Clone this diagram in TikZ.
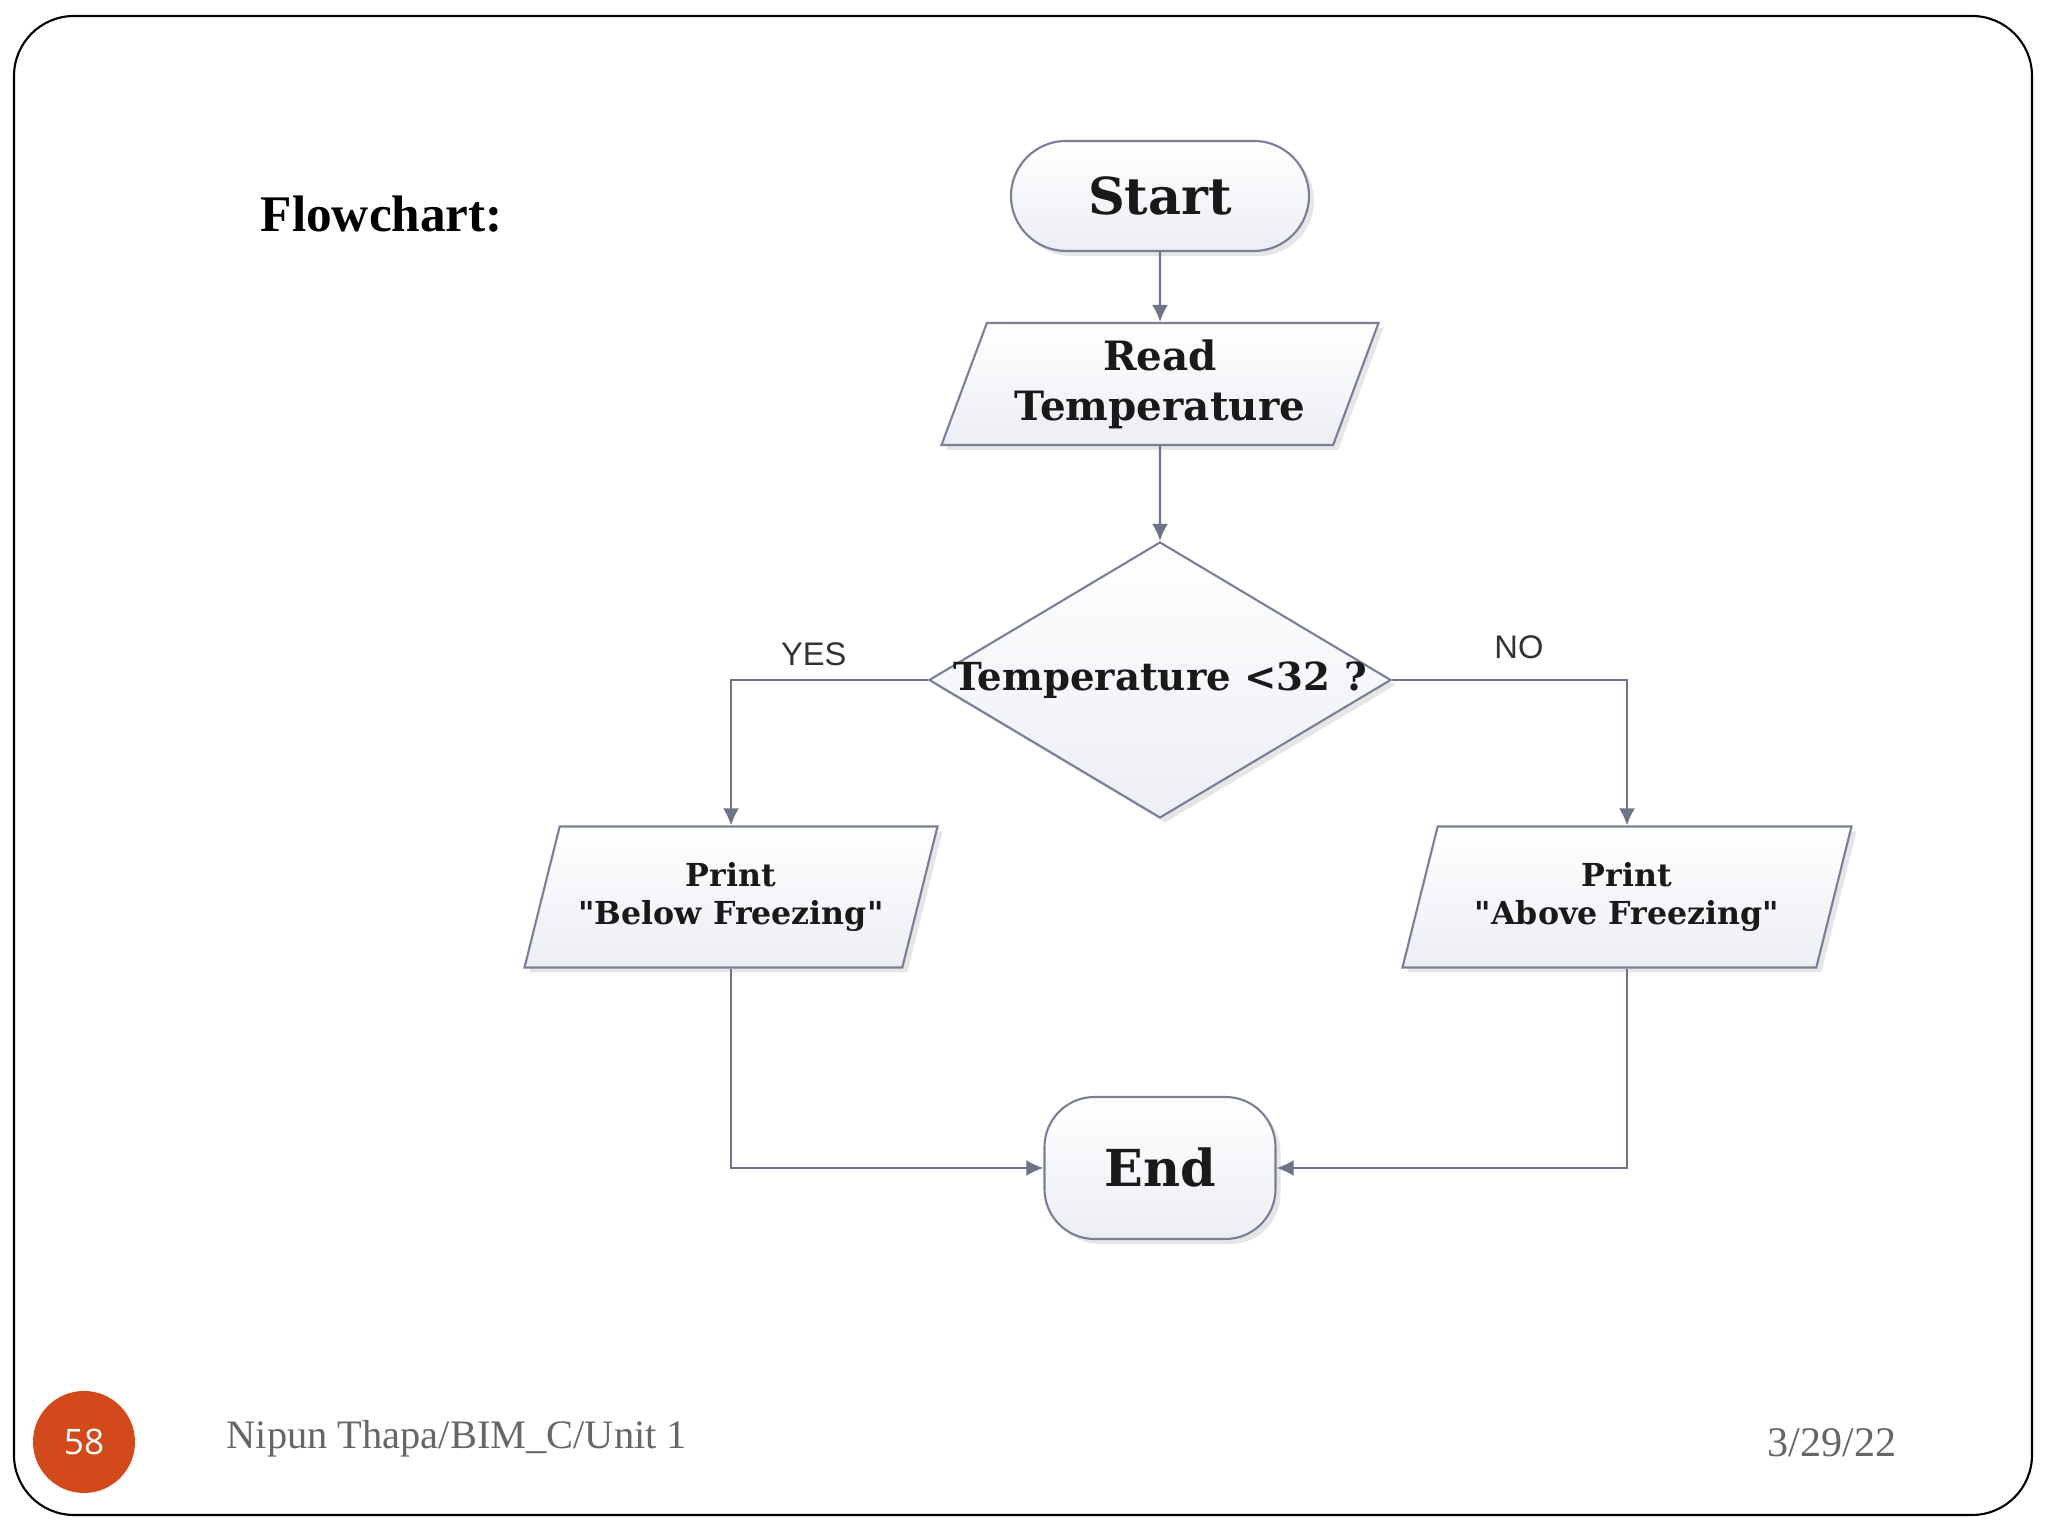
\documentclass[tikz,border=0pt]{standalone}
\usepackage{fontspec}
\setmainfont{Liberation Serif}
\newfontfamily\chartfont{DejaVu Serif}
\newfontfamily\labelfont{Liberation Sans}
\newfontfamily\numfont{Open Sans}
\usetikzlibrary{shapes.geometric,arrows.meta,shadows}
\definecolor{edgegray}{HTML}{7A7F95}
\definecolor{linegray}{HTML}{6E7388}
\definecolor{boxfill}{HTML}{ECEEF4}
\definecolor{pagenum}{HTML}{D2491B}
\definecolor{footgray}{HTML}{666666}
\begin{document}
\begin{tikzpicture}[
  box/.style={draw=edgegray, line width=0.6pt, top color=white, bottom color=boxfill,
    drop shadow={shadow xshift=0.5mm, shadow yshift=-0.5mm, opacity=0.2},
    text=black!90, align=center, inner sep=0pt},
  terminal/.style={box, rectangle, rounded corners=0.5cm},
  io/.style={box, trapezium, trapezium left angle=63, trapezium right angle=117,
    trapezium stretches body},
  decision/.style={box, diamond},
  flow/.style={draw=linegray, line width=0.6pt, -{Latex[length=1.7mm,width=1.6mm]}},
  branch/.style={font=\labelfont\fontsize{9.3}{11}\selectfont, text=black!80, inner sep=0pt}
]
\useasboundingbox (0,0) rectangle (20.48,15.36);
\draw[line width=0.6pt, rounded corners=0.6cm] (0.14,0.21) rectangle (20.32,15.20);

\node[anchor=west, inner sep=0pt, font=\bfseries\fontsize{14.6}{18}\selectfont] (title) at (2.60,13.22) {Flowchart:};

\node[terminal, rounded corners=0.55cm, minimum width=2.98cm, minimum height=1.10cm, font=\chartfont\bfseries\fontsize{14.5}{17}\selectfont] (start) at (11.60,13.40) {Start};
\node[io, minimum width=4.37cm, minimum height=1.22cm, font=\chartfont\bfseries\fontsize{11.5}{14.2}\selectfont] (read) at (11.60,11.52) {Read\\Temperature};
\node[decision, minimum width=4.62cm, minimum height=2.76cm, font=\chartfont\bfseries\fontsize{11}{13}\selectfont] (test) at (11.60,8.56) {\makebox[0pt]{Temperature <32 ?}};
\node[io, minimum width=4.13cm, minimum height=1.41cm, font=\chartfont\bfseries\fontsize{9}{10.8}\selectfont] (below) at (7.31,6.39) {Print\\"Below Freezing"};
\node[io, minimum width=4.49cm, minimum height=1.41cm, font=\chartfont\bfseries\fontsize{9}{10.8}\selectfont] (above) at (16.27,6.39) {Print\\"Above Freezing"};
\node[terminal, minimum width=2.31cm, minimum height=1.42cm, font=\chartfont\bfseries\fontsize{14.5}{17}\selectfont] (end) at (11.60,3.68) {End};

\draw[flow] (start) -- (read);
\draw[flow] (read) -- (test);
\draw[flow] (test.west) -| node[branch, pos=0.29, above=0.13cm] (yes) {YES} (below.north);
\draw[flow] (test.east) -| node[branch, pos=0.27, above=0.20cm] (no) {NO} (above.north);
\draw[flow] (below.south) |- (end.west);
\draw[flow] (above.south) |- (end.east);

\node[circle, fill=pagenum, minimum size=1.02cm, text=white, font=\numfont\fontsize{10}{12}\selectfont] (pnum) at (0.84,0.94) {58};
\node[anchor=west, inner sep=0pt, text=footgray, font=\fontsize{11.5}{14}\selectfont] (footer) at (2.26,0.97) {Nipun Thapa/BIM\_C/Unit 1};
\node[text=footgray, font=\fontsize{12}{14}\selectfont] (date) at (18.32,0.93) {3/29/22};
\end{tikzpicture}
\end{document}
